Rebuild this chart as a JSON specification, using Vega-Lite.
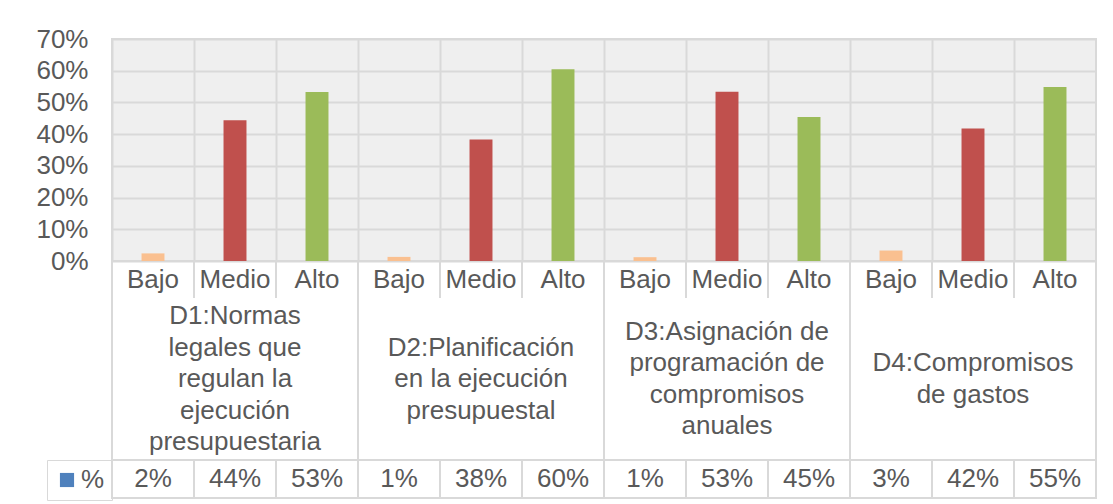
{
  "$schema": "https://vega.github.io/schema/vega-lite/v6.json",
  "padding": {"left": 34, "top": 25, "right": 0, "bottom": 0},
  "bounds": "flush",
  "spacing": 0,
  "resolve": {"scale": {"color": "independent", "fill": "independent", "x": "independent"}, "legend": {"color": "independent", "fill": "independent"}},
  "config": {
    "font": "Liberation Sans",
    "view": {"stroke": null},
    "axis": {"labelColor": "#595959", "labelFontSize": 26, "gridColor": "#d9d9d9", "gridWidth": 2}
  },
  "datasets": {
    "tabla": [
      {"slot": "D1 Bajo", "nivel": "Bajo", "dim": "D1:Normas\nlegales que\nregulan la\nejecución\npresupuestaria", "valor": 0.024, "etiqueta": "2%"},
      {"slot": "D1 Medio", "nivel": "Medio", "dim": "D1:Normas\nlegales que\nregulan la\nejecución\npresupuestaria", "valor": 0.444, "etiqueta": "44%"},
      {"slot": "D1 Alto", "nivel": "Alto", "dim": "D1:Normas\nlegales que\nregulan la\nejecución\npresupuestaria", "valor": 0.533, "etiqueta": "53%"},
      {"slot": "D2 Bajo", "nivel": "Bajo", "dim": "D2:Planificación\nen la ejecución\npresupuestal", "valor": 0.013, "etiqueta": "1%"},
      {"slot": "D2 Medio", "nivel": "Medio", "dim": "D2:Planificación\nen la ejecución\npresupuestal", "valor": 0.383, "etiqueta": "38%"},
      {"slot": "D2 Alto", "nivel": "Alto", "dim": "D2:Planificación\nen la ejecución\npresupuestal", "valor": 0.605, "etiqueta": "60%"},
      {"slot": "D3 Bajo", "nivel": "Bajo", "dim": "D3:Asignación de\nprogramación de\ncompromisos\nanuales", "valor": 0.012, "etiqueta": "1%"},
      {"slot": "D3 Medio", "nivel": "Medio", "dim": "D3:Asignación de\nprogramación de\ncompromisos\nanuales", "valor": 0.534, "etiqueta": "53%"},
      {"slot": "D3 Alto", "nivel": "Alto", "dim": "D3:Asignación de\nprogramación de\ncompromisos\nanuales", "valor": 0.454, "etiqueta": "45%"},
      {"slot": "D4 Bajo", "nivel": "Bajo", "dim": "D4:Compromisos\nde gastos", "valor": 0.033, "etiqueta": "3%"},
      {"slot": "D4 Medio", "nivel": "Medio", "dim": "D4:Compromisos\nde gastos", "valor": 0.418, "etiqueta": "42%"},
      {"slot": "D4 Alto", "nivel": "Alto", "dim": "D4:Compromisos\nde gastos", "valor": 0.549, "etiqueta": "55%"}
    ]
  },
  "vconcat": [
    {
      "width": 984,
      "height": 222,
      "view": {"fill": "#efefef", "stroke": "#d9d9d9", "strokeWidth": 2},
      "data": {"name": "tabla"},
      "mark": {"type": "bar", "width": {"band": 0.28}},
      "encoding": {
        "x": {"field": "slot", "type": "nominal",
              "scale": {"domain": ["D1 Bajo", "D1 Medio", "D1 Alto", "D2 Bajo", "D2 Medio", "D2 Alto", "D3 Bajo", "D3 Medio", "D3 Alto", "D4 Bajo", "D4 Medio", "D4 Alto"], "paddingInner": 0, "paddingOuter": 0},
              "axis": {"labels": false, "ticks": false, "domain": false, "title": null, "grid": true, "bandPosition": 0}},
        "y": {"field": "valor", "type": "quantitative",
              "scale": {"domain": [0, 0.7], "nice": false},
              "axis": {"values": [0, 0.1, 0.2, 0.3, 0.4, 0.5, 0.6, 0.7], "format": ".0%", "title": null, "domain": false, "ticks": false, "labelPadding": 24, "grid": true}},
        "color": {"field": "nivel", "type": "nominal",
                  "scale": {"domain": ["Bajo", "Medio", "Alto"], "range": ["#FAC090", "#C0504D", "#9BBB59"]},
                  "legend": null}
      }
    },
    {
      "width": 984,
      "height": 37,
      "data": {"name": "tabla"},
      "encoding": {
        "x": {"field": "slot", "type": "nominal",
              "scale": {"domain": ["D1 Bajo", "D1 Medio", "D1 Alto", "D2 Bajo", "D2 Medio", "D2 Alto", "D3 Bajo", "D3 Medio", "D3 Alto", "D4 Bajo", "D4 Medio", "D4 Alto"], "paddingInner": 0, "paddingOuter": 0}, "axis": null}
      },
      "layer": [
        {"mark": {"type": "text", "fontSize": 26, "color": "#595959", "baseline": "middle"},
         "encoding": {"text": {"field": "nivel"}}},
        {"mark": {"type": "rule", "color": "#d9d9d9", "strokeWidth": 2},
         "encoding": {"x": {"field": "slot", "type": "nominal", "bandPosition": 0}}},
        {"mark": {"type": "rule", "color": "#d9d9d9", "strokeWidth": 2},
         "encoding": {"x": {"field": "slot", "type": "nominal", "bandPosition": 1}}}
      ]
    },
    {
      "width": 984,
      "height": 162,
      "data": {"name": "tabla"},
      "encoding": {
        "x": {"field": "slot", "type": "nominal",
              "scale": {"domain": ["D1 Bajo", "D1 Medio", "D1 Alto", "D2 Bajo", "D2 Medio", "D2 Alto", "D3 Bajo", "D3 Medio", "D3 Alto", "D4 Bajo", "D4 Medio", "D4 Alto"], "paddingInner": 0, "paddingOuter": 0}, "axis": null}
      },
      "layer": [
        {"transform": [{"filter": "datum.slot === 'D1 Medio'"}],
         "mark": {"type": "text", "fontSize": 26, "color": "#595959", "baseline": "middle", "lineBreak": "\n", "lineHeight": 31.5, "dy": -63},
         "encoding": {"text": {"field": "dim"}}},
        {"transform": [{"filter": "datum.slot === 'D2 Medio'"}],
         "mark": {"type": "text", "fontSize": 26, "color": "#595959", "baseline": "middle", "lineBreak": "\n", "lineHeight": 31.5, "dy": -31.5},
         "encoding": {"text": {"field": "dim"}}},
        {"transform": [{"filter": "datum.slot === 'D3 Medio'"}],
         "mark": {"type": "text", "fontSize": 26, "color": "#595959", "baseline": "middle", "lineBreak": "\n", "lineHeight": 31.5, "dy": -47.25},
         "encoding": {"text": {"field": "dim"}}},
        {"transform": [{"filter": "datum.slot === 'D4 Medio'"}],
         "mark": {"type": "text", "fontSize": 26, "color": "#595959", "baseline": "middle", "lineBreak": "\n", "lineHeight": 31.5, "dy": -15.75},
         "encoding": {"text": {"field": "dim"}}},
        {"transform": [{"filter": "datum.nivel === 'Bajo'"}],
         "mark": {"type": "rule", "color": "#d9d9d9", "strokeWidth": 2},
         "encoding": {"x": {"field": "slot", "type": "nominal", "bandPosition": 0}}},
        {"transform": [{"filter": "datum.nivel === 'Alto'"}],
         "mark": {"type": "rule", "color": "#d9d9d9", "strokeWidth": 2},
         "encoding": {"x": {"field": "slot", "type": "nominal", "bandPosition": 1}}}
      ]
    },
    {
      "width": 984,
      "height": 38,
      "view": {"stroke": "#d9d9d9", "strokeWidth": 2},
      "data": {"name": "tabla"},
      "encoding": {
        "x": {"field": "slot", "type": "nominal",
              "scale": {"domain": ["D1 Bajo", "D1 Medio", "D1 Alto", "D2 Bajo", "D2 Medio", "D2 Alto", "D3 Bajo", "D3 Medio", "D3 Alto", "D4 Bajo", "D4 Medio", "D4 Alto"], "paddingInner": 0, "paddingOuter": 0}, "axis": null}
      },
      "layer": [
        {"mark": {"type": "text", "fontSize": 26, "color": "#595959", "baseline": "middle"},
         "encoding": {"text": {"field": "etiqueta"}}},
        {"mark": {"type": "rule", "color": "#d9d9d9", "strokeWidth": 2},
         "encoding": {"x": {"field": "slot", "type": "nominal", "bandPosition": 0}}},
        {"mark": {"type": "square", "filled": true, "opacity": 0},
         "encoding": {
           "fill": {"datum": "%", "scale": {"range": ["#4F81BD"]},
                    "legend": {"orient": "left", "offset": 0, "padding": 7, "strokeColor": "#d9d9d9", "title": null,
                               "symbolType": "square", "symbolSize": 200, "symbolStrokeWidth": 0, "symbolOpacity": 1,
                               "symbolFillColor": "#4F81BD",
                               "labelFontSize": 26, "labelColor": "#595959", "labelOffset": 1, "labelLimit": 200}}
         }}
      ]
    }
  ]
}
